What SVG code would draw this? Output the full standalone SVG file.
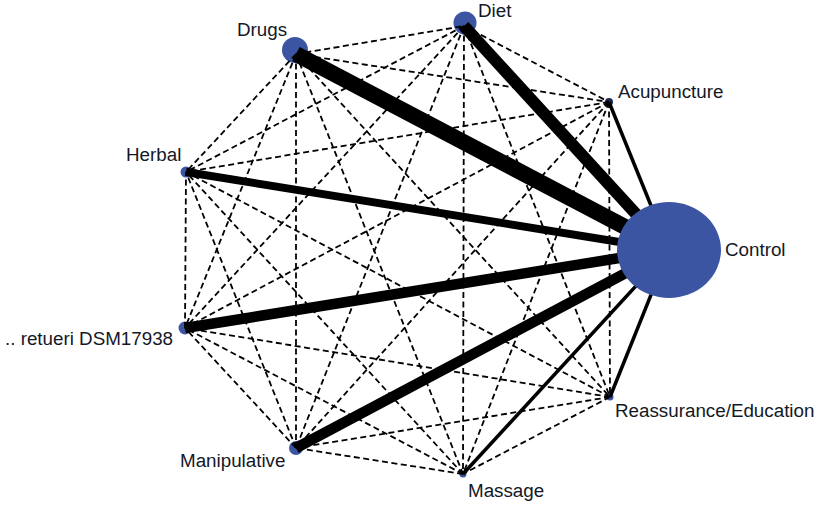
<svg xmlns="http://www.w3.org/2000/svg" width="821" height="505" viewBox="0 0 821 505">
<style>
.bg{fill:#ffffff}
.n{fill:#3b55a3}
.d{stroke:#000;stroke-width:1.8;stroke-dasharray:6 3.5;fill:none}
.s{stroke:#000;fill:none;stroke-linecap:butt}
.t{font-family:"Liberation Sans",Arial,Helvetica,sans-serif;font-size:18.8px;fill:#141826}
</style>
<rect class="bg" x="0" y="0" width="821" height="505"/>
<g id="node-drugs"><circle class="n" cx="295" cy="50" r="13"/><text class="t" x="237" y="36">Drugs</text></g>
<g id="node-diet"><circle class="n" cx="465" cy="23" r="11.5"/><text class="t" x="478" y="17">Diet</text></g>
<g id="node-acupuncture"><circle class="n" cx="609" cy="102" r="4" style="fill:#1e2a55"/><text class="t" x="618" y="98">Acupuncture</text></g>
<g id="node-reassurance"><circle class="n" cx="610" cy="397" r="3.5"/><text class="t" x="615" y="417">Reassurance/Education</text></g>
<g id="node-massage"><circle class="n" cx="463" cy="474" r="3.5"/><text class="t" x="468" y="497">Massage</text></g>
<g id="node-manipulative"><circle class="n" cx="296" cy="448" r="7"/><text class="t" x="180" y="467">Manipulative</text></g>
<g id="node-reuteri"><circle class="n" cx="185" cy="328" r="6.5"/><text class="t" x="5" y="345">.. retueri DSM17938</text></g>
<g id="node-herbal"><circle class="n" cx="186" cy="172" r="5.5"/><text class="t" x="126" y="161">Herbal</text></g>
<g id="connectors">
<line class="d" x1="296" y1="54" x2="464" y2="26"/>
<line class="d" x1="296" y1="54" x2="609" y2="102"/>
<line class="d" x1="296" y1="54" x2="610" y2="397"/>
<line class="d" x1="296" y1="54" x2="463" y2="474"/>
<line class="d" x1="296" y1="54" x2="296" y2="448"/>
<line class="d" x1="296" y1="54" x2="185" y2="328"/>
<line class="d" x1="296" y1="54" x2="186" y2="172"/>
<line class="d" x1="464" y1="26" x2="609" y2="102"/>
<line class="d" x1="464" y1="26" x2="610" y2="397"/>
<line class="d" x1="464" y1="26" x2="463" y2="474"/>
<line class="d" x1="464" y1="26" x2="296" y2="448"/>
<line class="d" x1="464" y1="26" x2="185" y2="328"/>
<line class="d" x1="464" y1="26" x2="186" y2="172"/>
<line class="d" x1="609" y1="102" x2="610" y2="397"/>
<line class="d" x1="609" y1="102" x2="463" y2="474"/>
<line class="d" x1="609" y1="102" x2="296" y2="448"/>
<line class="d" x1="609" y1="102" x2="185" y2="328"/>
<line class="d" x1="609" y1="102" x2="186" y2="172"/>
<line class="d" x1="610" y1="397" x2="463" y2="474"/>
<line class="d" x1="610" y1="397" x2="296" y2="448"/>
<line class="d" x1="610" y1="397" x2="185" y2="328"/>
<line class="d" x1="610" y1="397" x2="186" y2="172"/>
<line class="d" x1="463" y1="474" x2="296" y2="448"/>
<line class="d" x1="463" y1="474" x2="185" y2="328"/>
<line class="d" x1="463" y1="474" x2="186" y2="172"/>
<line class="d" x1="296" y1="448" x2="185" y2="328"/>
<line class="d" x1="296" y1="448" x2="186" y2="172"/>
<line class="d" x1="185" y1="328" x2="186" y2="172"/>
<line class="s" x1="296" y1="54" x2="669" y2="250" stroke-width="16"/>
<line class="s" x1="464" y1="26" x2="669" y2="250" stroke-width="12"/>
<line class="s" x1="609" y1="102" x2="669" y2="250" stroke-width="3.5"/>
<line class="s" x1="186" y1="172" x2="669" y2="250" stroke-width="8"/>
<line class="s" x1="185" y1="328" x2="669" y2="250" stroke-width="10.5"/>
<line class="s" x1="296" y1="448" x2="669" y2="250" stroke-width="10.5"/>
<line class="s" x1="463" y1="474" x2="669" y2="250" stroke-width="3.5"/>
<line class="s" x1="610" y1="397" x2="669" y2="250" stroke-width="3.5"/>
</g>
<g id="node-control"><ellipse class="n" cx="669" cy="250" rx="52" ry="48"/><text class="t" x="725" y="256">Control</text></g>
</svg>
